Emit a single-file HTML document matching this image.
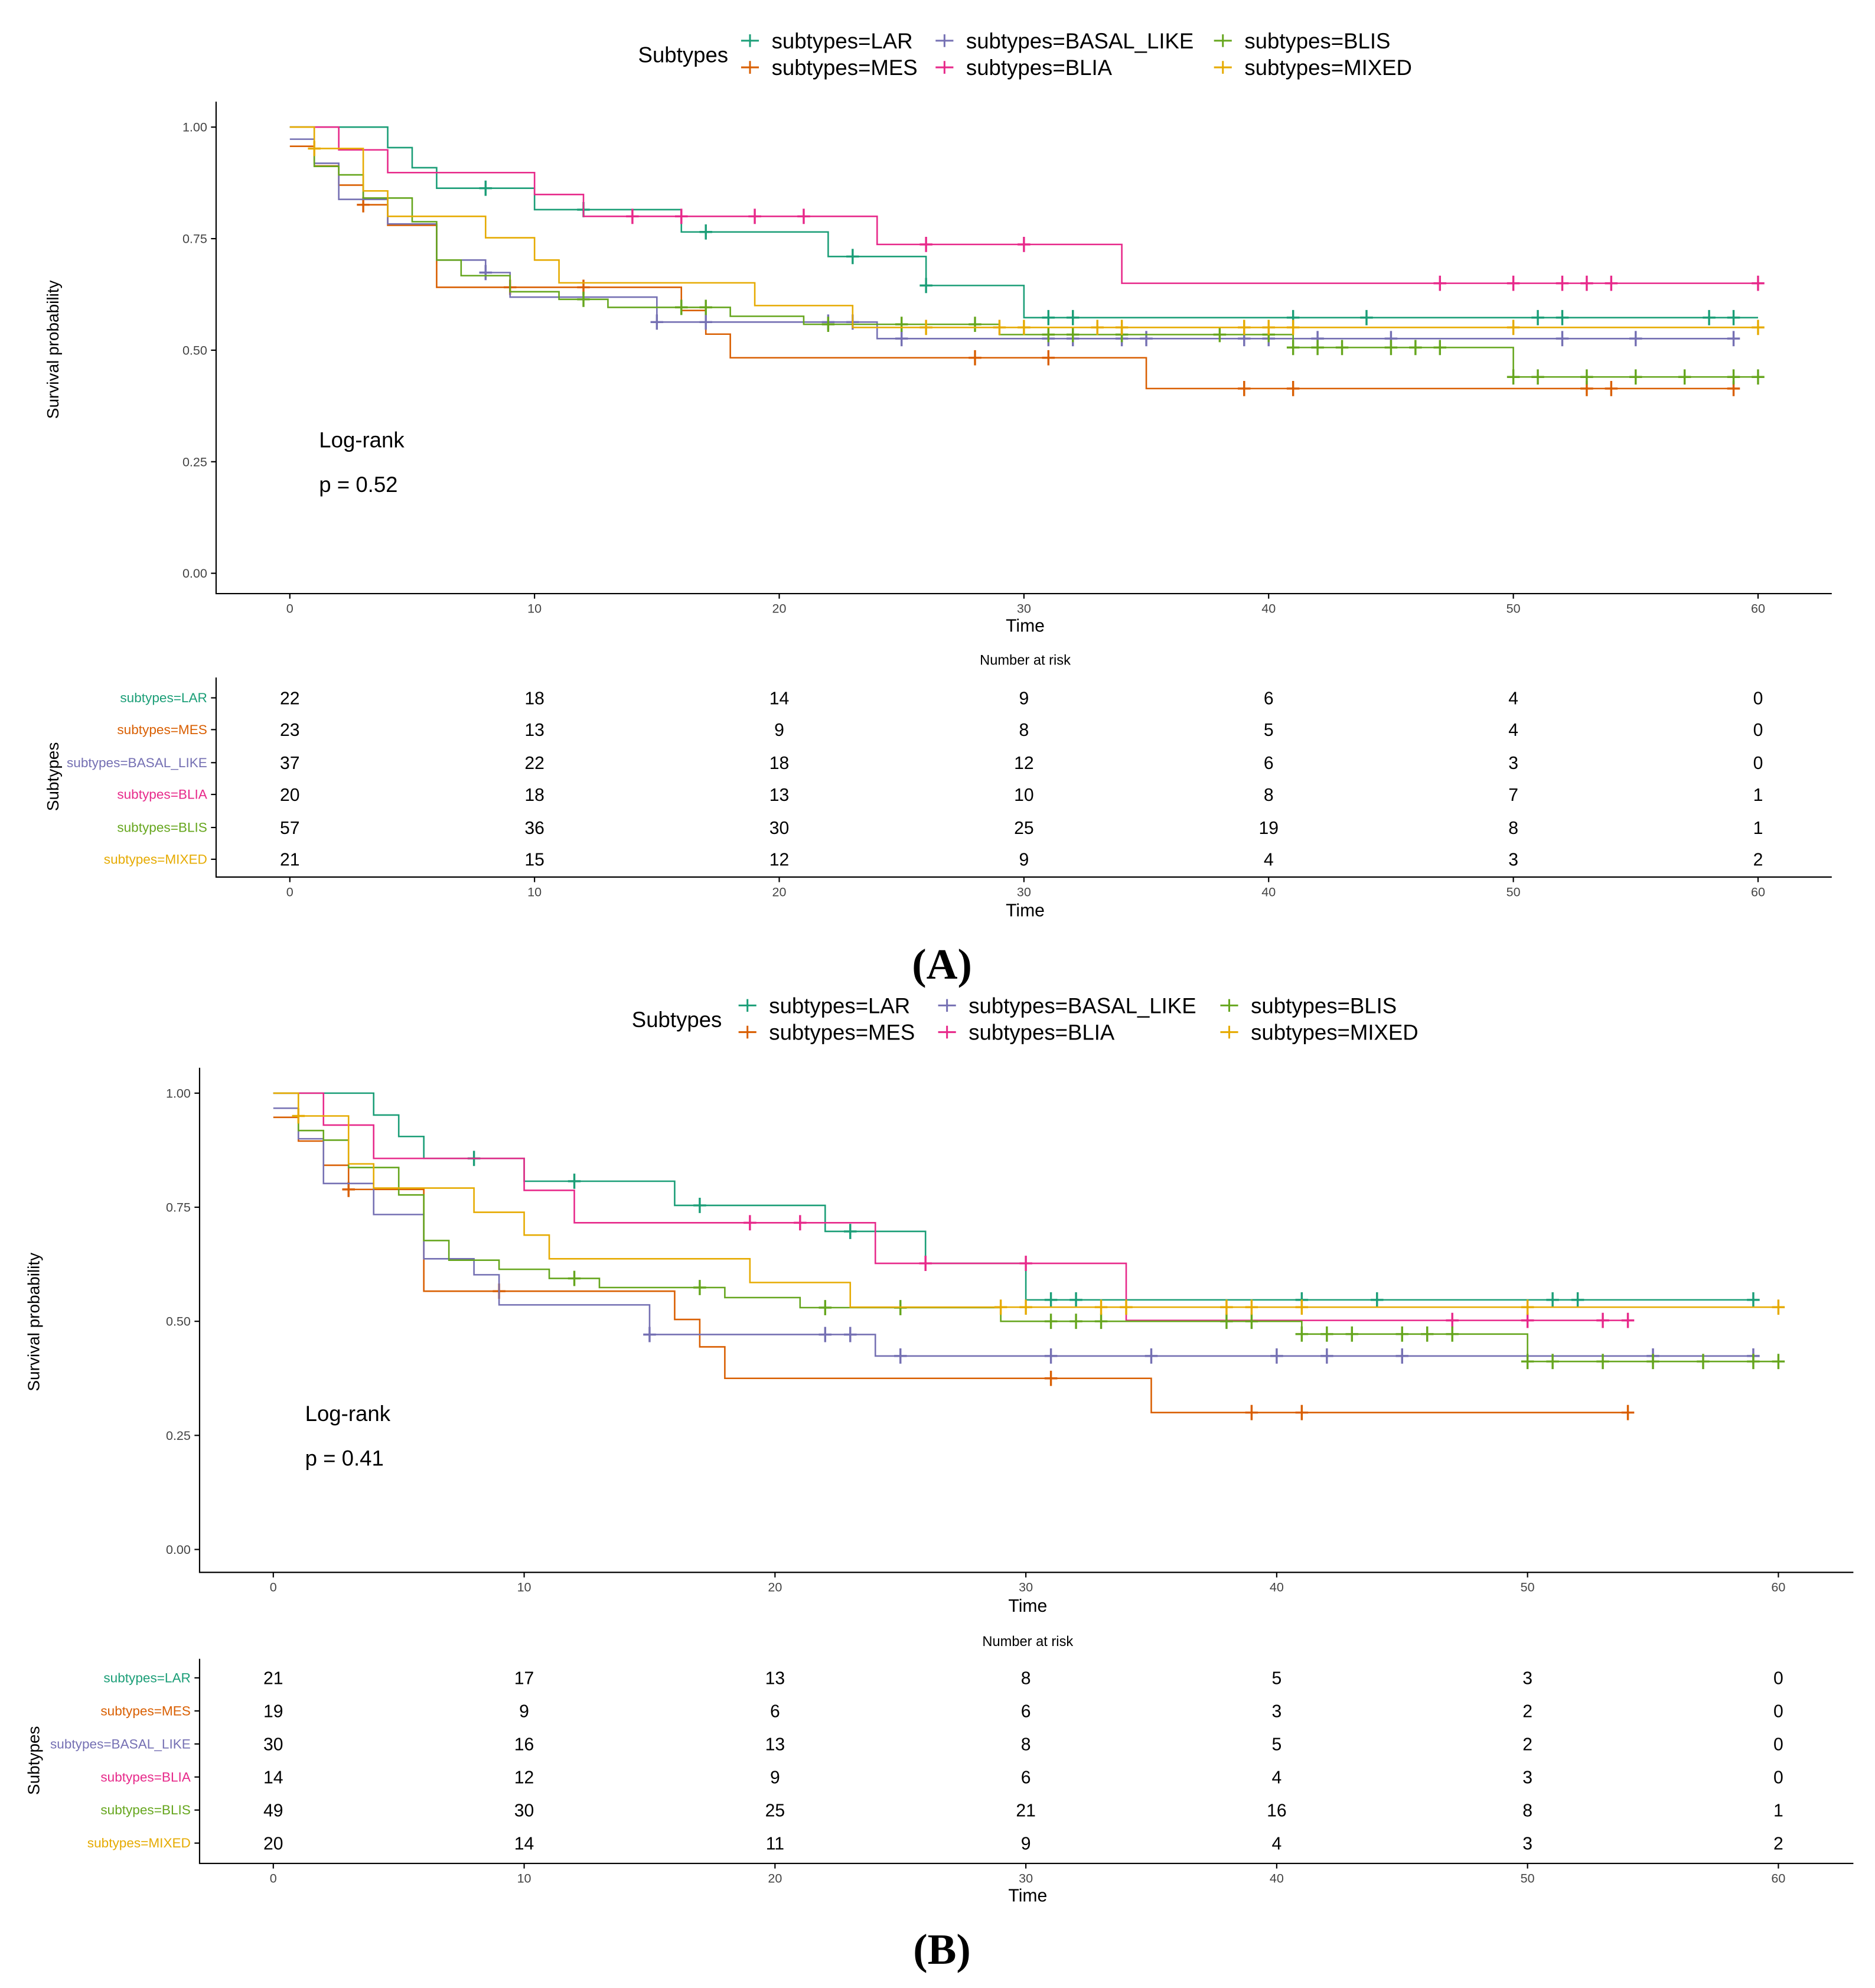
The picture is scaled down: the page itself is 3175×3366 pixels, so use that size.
<!DOCTYPE html>
<html><head><meta charset="utf-8"><style>html,body{margin:0;padding:0;background:#fff}svg{display:block}text{font-family:"Liberation Sans",sans-serif}text.serif{font-family:"Liberation Serif",serif}</style></head>
<body>
<svg id="fig" xmlns="http://www.w3.org/2000/svg" width="3175" height="3366" viewBox="0 0 1475 1564" preserveAspectRatio="none"></svg>
<script>
const seriesNames = ["LAR","MES","BASAL_LIKE","BLIA","BLIS","MIXED"];
const seriesColors = ["#1b9e77","#d95f02","#7570b3","#e7298a","#66a61e","#e6ab02"];
const timeTicks = [0,10,20,30,40,50,60];
const survTicks = [0,0.25,0.5,0.75,1];
const survTickLabels = ["0.00","0.25","0.50","0.75","1.00"];
const riskTimes = [0,10,20,30,40,50,60];
// Panel A
const A_LAR_t = [0,4,5,6,10,16,22,26,30];
const A_LAR_s = [1,0.954,0.909,0.863,0.815,0.765,0.71,0.645,0.573];
const A_LAR_c = [8,12,17,23,26,31,32,41,44,51,52,58,59];
const A_MES_t = [0,1,2,3,4,6,16,17,18,35];
const A_MES_s = [0.957,0.913,0.87,0.826,0.78,0.641,0.589,0.536,0.483,0.414];
const A_MES_c = [3,9,12,28,31,39,41,53,54,59];
const A_BAS_t = [0,1,2,4,6,8,9,15,24];
const A_BAS_s = [0.973,0.919,0.838,0.783,0.702,0.674,0.619,0.563,0.526];
const A_BAS_c = [8,15,17,22,23,25,31,32,34,35,39,40,42,45,52,55,59];
const A_BLIA_t = [0,2,4,10,12,24,34];
const A_BLIA_s = [1,0.949,0.898,0.849,0.8,0.737,0.65];
const A_BLIA_c = [14,16,19,21,26,30,47,50,52,53,54,60];
const A_BLIS_t = [0,1,2,3,5,6,7,9,11,13,18,21,29,41,50];
const A_BLIS_s = [1,0.912,0.893,0.841,0.788,0.702,0.667,0.631,0.614,0.596,0.576,0.558,0.535,0.506,0.44];
const A_BLIS_c = [12,16,17,22,25,28,31,32,34,38,40,41,42,43,45,46,47,50,51,53,55,57,59,60];
const A_MIX_t = [0,1,3,4,8,10,11,19,23];
const A_MIX_s = [1,0.952,0.857,0.8,0.752,0.702,0.651,0.6,0.551];
const A_MIX_c = [1,26,29,30,33,34,39,40,41,50,60];
const A_risk = [[22,18,14,9,6,4,0],[23,13,9,8,5,4,0],[37,22,18,12,6,3,0],[20,18,13,10,8,7,1],[57,36,30,25,19,8,1],[21,15,12,9,4,3,2]];
// Panel B
const B_LAR_t = [0,4,5,6,10,16,22,26,30];
const B_LAR_s = [1,0.952,0.905,0.857,0.807,0.754,0.697,0.627,0.547];
const B_LAR_c = [8,12,17,23,31,32,41,44,51,52,59];
const B_MES_t = [0,1,2,3,6,16,17,18,35];
const B_MES_s = [0.947,0.895,0.842,0.789,0.566,0.504,0.444,0.375,0.3];
const B_MES_c = [3,9,31,39,41,54];
const B_BAS_t = [0,1,2,4,6,8,9,15,24];
const B_BAS_s = [0.967,0.9,0.802,0.734,0.637,0.602,0.536,0.471,0.424];
const B_BAS_c = [15,22,23,25,31,35,40,42,45,55,59];
const B_BLIA_t = [0,2,4,10,12,24,34];
const B_BLIA_s = [1,0.93,0.857,0.787,0.716,0.627,0.502];
const B_BLIA_c = [19,21,26,30,47,50,53,54];
const B_BLIS_t = [0,1,2,3,5,6,7,9,11,13,18,21,29,41,50];
const B_BLIS_s = [1,0.918,0.897,0.837,0.777,0.677,0.634,0.614,0.594,0.574,0.552,0.53,0.5,0.472,0.412];
const B_BLIS_c = [12,17,22,25,31,32,33,38,39,41,42,43,45,46,47,50,51,53,55,57,59,60];
const B_MIX_t = [0,1,3,4,8,10,11,19,23];
const B_MIX_s = [1,0.95,0.845,0.792,0.739,0.689,0.637,0.585,0.531];
const B_MIX_c = [1,29,30,33,34,38,39,41,50,60];
const B_risk = [[21,17,13,8,5,3,0],[19,9,6,6,3,2,0],[30,16,13,8,5,2,0],[14,12,9,6,4,3,0],[49,30,25,21,16,8,1],[20,14,11,9,4,3,2]];

const panels = [
 {key:"a", ser:[[A_LAR_t,A_LAR_s,A_LAR_c,60],[A_MES_t,A_MES_s,A_MES_c,59],[A_BAS_t,A_BAS_s,A_BAS_c,59],[A_BLIA_t,A_BLIA_s,A_BLIA_c,60],[A_BLIS_t,A_BLIS_s,A_BLIS_c,60],[A_MIX_t,A_MIX_s,A_MIX_c,60]], risk:A_risk, pval:"p = 0.52", label:"(A)",
  g:{x0:228,x60:1383,y1:100,y0:451,axL:170,axR:1441,axT:80,axB:467,timeY:497,nar:523,rT:533,rB:690,rows:[549,574,600,625,651,676],rTick:705,rTime:721,lblX:163,ylabX:42,ylabY:275,subY:611,lrX:251,lrY:352,panY:770,leg:{sx:502,sy:49,r1:38,r2:59,cols:[590,743,962]}}},
 {key:"b", ser:[[B_LAR_t,B_LAR_s,B_LAR_c,59],[B_MES_t,B_MES_s,B_MES_c,54],[B_BAS_t,B_BAS_s,B_BAS_c,59],[B_BLIA_t,B_BLIA_s,B_BLIA_c,54],[B_BLIS_t,B_BLIS_s,B_BLIS_c,60],[B_MIX_t,B_MIX_s,B_MIX_c,60]], risk:B_risk, pval:"p = 0.41", label:"(B)",
  g:{x0:215,x60:1399,y1:860,y0:1219,axL:157,axR:1458,axT:840,axB:1237,timeY:1268,nar:1295,rT:1305,rB:1466,rows:[1320,1346,1372,1398,1424,1450],rTick:1481,rTime:1496,lblX:150,ylabX:27,ylabY:1040,subY:1385,lrX:240,lrY:1118,panY:1545,leg:{sx:497,sy:808,r1:797,r2:818,cols:[588,745,967]}}}
];
const NS="http://www.w3.org/2000/svg";
const svg=document.getElementById("fig");
function mk(tag,attrs,parent){const e=document.createElementNS(NS,tag);for(const k in attrs)e.setAttribute(k,attrs[k]);(parent||svg).appendChild(e);return e;}
function txt(s,attrs,parent){const e=mk("text",attrs,parent);e.textContent=s;return e;}
panels.forEach(p=>{
 const g=p.g;
 const X=t=>g.x0+(g.x60-g.x0)*t/60;
 const Y=s=>g.y0+(g.y1-g.y0)*s;
 const grp=mk("g",{});
 
 
 const lg=mk("g",{},grp);
 
 
 txt("Subtypes",{x:g.leg.sx,y:g.leg.sy,"font-size":17,fill:"#000"},lg);
 const order=[[0,0,0],[1,0,1],[2,1,0],[3,1,1],[4,2,0],[5,2,1]];
 order.forEach(([i,c,r])=>{
  const cx=g.leg.cols[c], cy=(r?g.leg.r2:g.leg.r1)-6;
  const le=mk("g",{},lg);
  
  
  mk("path",{d:`M${cx-7} ${cy}H${cx+7}M${cx} ${cy-5}V${cy+5}`,stroke:seriesColors[i],"stroke-width":1.4},le);
  txt("subtypes="+seriesNames[i],{x:cx+17,y:cy+6,"font-size":17,fill:"#000"},le);
 });
 const ax=mk("path",{d:`M${g.axL} ${g.axT}V${g.axB}H${g.axR}`,stroke:"#000","stroke-width":1,fill:"none"},grp);
 
 
 survTicks.forEach((s,i)=>{
  mk("line",{x1:g.axL-4,x2:g.axL,y1:Y(s),y2:Y(s),stroke:"#000"},grp);
  const t=txt(survTickLabels[i],{x:g.lblX,y:Y(s)+3.5,"font-size":10,fill:"#444","text-anchor":"end"},grp);
  
  
 });
 timeTicks.forEach(t=>{
  mk("line",{x1:X(t),x2:X(t),y1:g.axB,y2:g.axB+4,stroke:"#000"},grp);
  const e=txt(String(t),{x:X(t),y:g.axB+15,"font-size":10,fill:"#444","text-anchor":"middle"},grp);
  
  
 });
 const xt=txt("Time",{x:(g.axL+g.axR)/2+1,y:g.timeY,"font-size":14,"text-anchor":"middle"},grp);
 
 
 const yt=txt("Survival probability",{x:0,y:0,"font-size":13,"text-anchor":"middle",transform:`translate(${g.ylabX+4},${g.ylabY}) rotate(-90)`},grp);
 
 
 p.ser.forEach((sr,i)=>{
  const [ts,ss,cs,end]=sr;
  let d=`M${X(ts[0])} ${Y(ss[0])}`;
  for(let k=1;k<ts.length;k++){d+=`H${X(ts[k])}V${Y(ss[k])}`;}
  d+=`H${X(end)}`;
  const c=mk("path",{d:d,stroke:seriesColors[i],"stroke-width":1.2,fill:"none"},grp);
  
  
  cs.forEach(ct=>{
   let s=ss[0];for(let k=0;k<ts.length;k++){if(ts[k]<=ct)s=ss[k];}
   const cx=X(ct),cy=Y(s);
   const m=mk("path",{d:`M${cx-5} ${cy}H${cx+5}M${cx} ${cy-6}V${cy+6}`,stroke:seriesColors[i],"stroke-width":1.6},grp);
   
   
  });
 });
 const lr=txt("Log-rank",{x:g.lrX,y:g.lrY,"font-size":17},grp);
 
 
 const pv=txt(p.pval,{x:g.lrX,y:g.lrY+35,"font-size":17},grp);
 
 
 const nar=txt("Number at risk",{x:(g.axL+g.axR)/2+1,y:g.nar,"font-size":11,"text-anchor":"middle"},grp);
 
 
 const rax=mk("path",{d:`M${g.axL} ${g.rT}V${g.rB}H${g.axR}`,stroke:"#000",fill:"none"},grp);
 
 
 timeTicks.forEach(t=>{
  mk("line",{x1:X(t),x2:X(t),y1:g.rB,y2:g.rB+4,stroke:"#000"},grp);
  txt(String(t),{x:X(t),y:g.rTick,"font-size":10,fill:"#444","text-anchor":"middle"},grp);
 });
 txt("Time",{x:(g.axL+g.axR)/2+1,y:g.rTime,"font-size":14,"text-anchor":"middle"},grp);
 txt("Subtypes",{x:0,y:0,"font-size":13,"text-anchor":"middle",transform:`translate(${g.ylabX+4},${g.subY}) rotate(-90)`},grp);
 p.risk.forEach((row,i)=>{
  const y=g.rows[i];
  mk("line",{x1:g.axL-4,x2:g.axL,y1:y,y2:y,stroke:"#000"},grp);
  const rl=txt("subtypes="+seriesNames[i],{x:g.lblX,y:y+3.5,"font-size":10.5,fill:seriesColors[i],"text-anchor":"end"},grp);
  
  
  row.forEach((v,j)=>{
   const c=txt(String(v),{x:X(riskTimes[j]),y:y+5,"font-size":14,"text-anchor":"middle"},grp);
   
   
  });
 });
 const pl=txt(p.label,{x:741,y:g.panY,"font-size":34,"font-weight":"bold","text-anchor":"middle","class":"serif"},grp);
 
 
});
</script>
</body></html>
